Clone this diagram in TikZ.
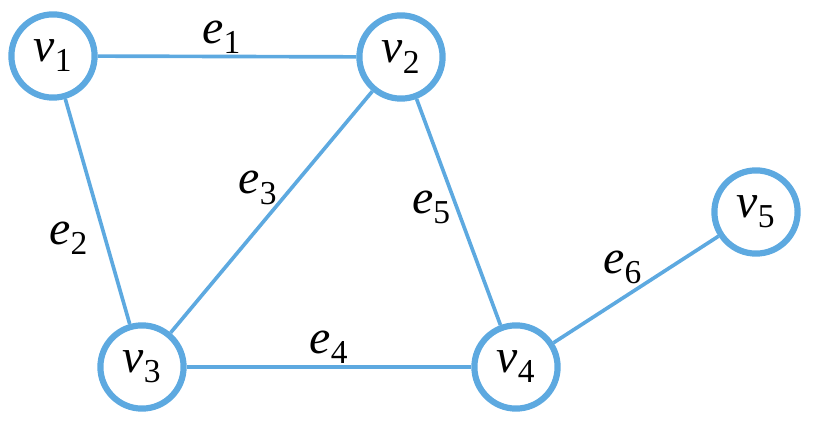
\documentclass[tikz,border=0pt]{standalone}
\usepackage{fontspec}
\setmainfont{Liberation Serif}
\usepackage{tikz}
\usetikzlibrary{positioning}
\definecolor{graphblue}{RGB}{93,169,224}

% vertex and edge names
\newcommand{\vname}[1]{\raisebox{-7pt}{\textit{v}\textsubscript{#1}}}
\newcommand{\ename}[1]{\textit{e}\textsubscript{#1}}

\begin{document}
\begin{tikzpicture}[
  vertex/.style={circle, draw=graphblue, line width=4.4pt, minimum size=2.08cm,
                 inner sep=0pt, font=\fontsize{34}{40}\selectfont},
  link/.style={draw=graphblue, line width=2.6pt},
  elabel/.style={font=\fontsize{34}{40}\selectfont, inner sep=3pt}]

% frame of the picture
\useasboundingbox (0,0) rectangle (20.55,11);

% ------------------------------------------------------------------
% VERTICES
% ------------------------------------------------------------------
\node[vertex] (v1) at (1.325,9.6)  {\vname{1}};
\node[vertex] (v2) at (10.025,9.575) {\vname{2}};
\node[vertex] (v3) at (3.55,1.825) {\vname{3}};
\node[vertex] (v4) at (12.9,1.825) {\vname{4}};
\node[vertex] (v5) at (18.9,5.7)   {\vname{5}};

% ------------------------------------------------------------------
% EDGES with labels
% ------------------------------------------------------------------
\draw[link] (v1) -- node[elabel, above=-2pt, pos=0.48] {\ename{1}} (v2);
\draw[link] (v1) -- node[elabel, left=8pt, pos=0.62] {\ename{2}} (v3);
\draw[link] (v3) -- node[elabel, left=6pt, pos=0.6] {\ename{3}} (v2);
\draw[link] (v3) -- node[elabel, above=-2pt, pos=0.5] {\ename{4}} (v4);
\draw[link] (v2) -- node[elabel, left, pos=0.48] {\ename{5}} (v4);
\draw[link] (v4) -- node[elabel, above=6pt, pos=0.42] {\ename{6}} (v5);

\end{tikzpicture}
\end{document}
